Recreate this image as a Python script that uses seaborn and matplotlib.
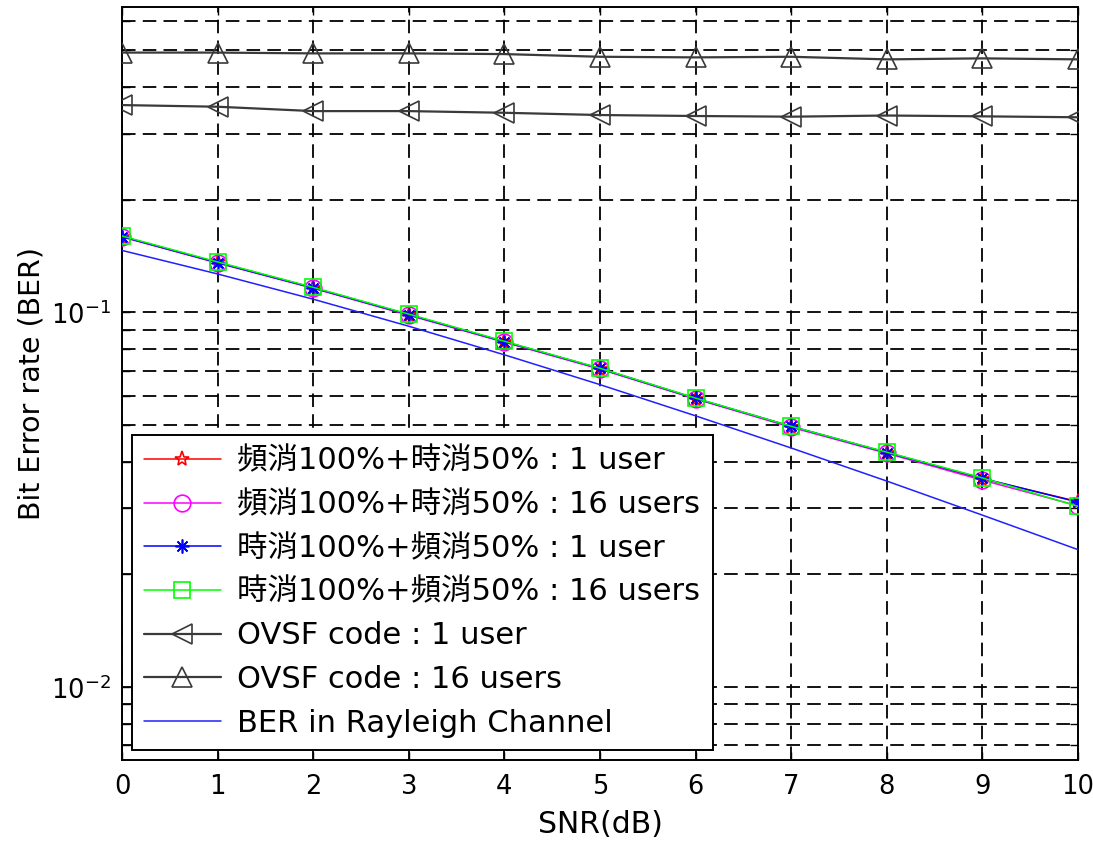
import matplotlib
matplotlib.use("Agg")
import matplotlib.pyplot as plt
import seaborn as sns
from matplotlib.ticker import LogLocator, NullFormatter

# SNR axis (dB)
snr_db = [0, 1, 2, 3, 4, 5, 6, 7, 8, 9, 10]

# Simulated BER curves
freq100_time50_1user = [0.1594, 0.1360, 0.1164, 0.0986, 0.0835, 0.0708, 0.0589, 0.0496, 0.0423, 0.0360, 0.0313]
freq100_time50_16users = [0.1590, 0.1355, 0.1160, 0.0983, 0.0833, 0.0706, 0.0588, 0.0494, 0.0421, 0.0357, 0.0305]
time100_freq50_1user = [0.1594, 0.1358, 0.1163, 0.0987, 0.0836, 0.0709, 0.0590, 0.0497, 0.0423, 0.0361, 0.0312]
time100_freq50_16users = [0.1600, 0.1364, 0.1167, 0.0990, 0.0838, 0.0710, 0.0591, 0.0497, 0.0424, 0.0362, 0.0304]
ovsf_1user = [0.3575, 0.3539, 0.3445, 0.3445, 0.3410, 0.3363, 0.3343, 0.3329, 0.3353, 0.3336, 0.3317]
ovsf_16users = [0.4935, 0.4935, 0.4911, 0.4911, 0.4890, 0.4810, 0.4792, 0.4810, 0.4734, 0.4763, 0.4734]
rayleigh_ber = [0.1464, 0.1267, 0.1085, 0.0919, 0.0771, 0.0642, 0.0530, 0.0435, 0.0355, 0.0288, 0.0233]

series_labels = [
    "頻消100%+時消50% : 1 user",
    "頻消100%+時消50% : 16 users",
    "時消100%+頻消50% : 1 user",
    "時消100%+頻消50% : 16 users",
    "OVSF code : 1 user",
    "OVSF code : 16 users",
    "BER in Rayleigh Channel",
]

sns.set_style("ticks")
plt.rcParams["font.family"] = ["DejaVu Sans", "Noto Sans CJK TC"]
plt.rcParams["mathtext.fontset"] = "dejavusans"
plt.rcParams["axes.unicode_minus"] = False
plt.rcParams["text.color"] = "black"
plt.rcParams["axes.labelcolor"] = "black"
plt.rcParams["xtick.color"] = "black"
plt.rcParams["ytick.color"] = "black"

fig = plt.figure(figsize=(10.93, 8.42), dpi=100)
ax = fig.add_axes([122 / 1093, 1 - 760 / 842, (1078 - 122) / 1093, (760 - 7) / 842])

styles = [
    (freq100_time50_1user, "#FF0000", "*", 11),
    (freq100_time50_16users, "#FF00FF", "o", 12),
    (time100_freq50_1user, "#0000FF", (8, 2, 0), 10),
    (time100_freq50_16users, "#00FF00", "s", 12),
    (ovsf_1user, "#3a3a3a", "<", 15),
    (ovsf_16users, "#3a3a3a", "^", 14),
]

for (vals, color, marker, ms), label in zip(styles, series_labels):
    lw = 1.6 if color == "#3a3a3a" else 1.1
    sns.lineplot(x=snr_db, y=vals, ax=ax, color=color, marker=marker,
                 markersize=ms, markerfacecolor="none", markeredgecolor=color,
                 markeredgewidth=1.2, linewidth=lw, label=label,
                 errorbar=None, legend=False, zorder=3)

sns.lineplot(x=snr_db, y=rayleigh_ber, ax=ax, color="#2020FF", linewidth=1.1,
             label=series_labels[-1], errorbar=None, legend=False, zorder=3)

ax.set_yscale("log")
ax.set_xlim(0, 10)
ax.set_ylim(0.0064, 0.653)
ax.set_xticks(snr_db)
ax.yaxis.set_major_locator(LogLocator(base=10))
ax.yaxis.set_minor_locator(LogLocator(base=10, subs=[2, 3, 4, 5, 6, 7, 8, 9]))
ax.yaxis.set_minor_formatter(NullFormatter())

grid_kw = dict(color="black", linestyle=(0, (7.5, 4)), linewidth=1.3)
ax.grid(True, which="major", axis="x", **grid_kw)
ax.grid(True, which="both", axis="y", **grid_kw)
ax.set_axisbelow(True)

ax.tick_params(which="both", direction="in", top=True, right=True,
               length=5.8, width=1.0, color="black")
ax.tick_params(axis="x", labelsize=18.5, pad=10, labelcolor="black")
ax.tick_params(axis="y", labelsize=18.5, pad=8, labelcolor="black")
for sp in ax.spines.values():
    sp.set_visible(True)
    sp.set_color("black")
    sp.set_linewidth(1.4)

ax.set_xlabel("SNR(dB)", fontsize=21.5, labelpad=7, color="black")
ax.set_ylabel("Bit Error rate (BER)", fontsize=20.5, labelpad=4, color="black")

handles, labels = ax.get_legend_handles_labels()
leg = ax.legend(handles, labels, loc="lower left", bbox_to_anchor=(0.0105, 0.0133),
                borderaxespad=0, fontsize=22, frameon=True, fancybox=False,
                edgecolor="black", framealpha=1, handlelength=2.5,
                handletextpad=0.55, labelspacing=0.48, borderpad=0.4)
leg.get_frame().set_linewidth(1.4)
leg.set_zorder(5)
for t in leg.get_texts():
    t.set_color("black")

fig.savefig("out.png", dpi=100, facecolor="white")
